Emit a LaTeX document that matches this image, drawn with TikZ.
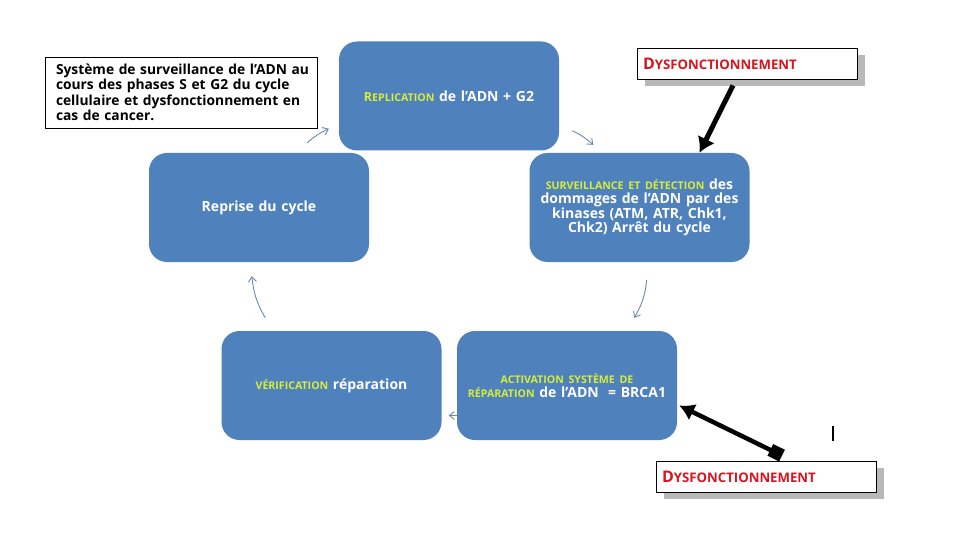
\documentclass[tikz,border=0pt]{standalone}
\usepackage{fontspec}
\setmainfont{Open Sans}
\usetikzlibrary{arrows.meta,shadows,calc}
\definecolor{boxblue}{RGB}{79,129,189}
\definecolor{capyellow}{RGB}{214,238,58}
\definecolor{dysred}{RGB}{214,22,30}
\definecolor{cyclegray}{RGB}{110,136,172}
\newcommand{\petitcap}[1]{{\fontsize{10.6}{12}\selectfont #1}}
\newcommand{\dysf}{\textcolor{dysred}{\bfseries{\fontsize{16}{16}\selectfont D}{\fontsize{13.2}{14}\selectfont YSFONCTIONNEMENT}}}

\begin{document}
\begin{tikzpicture}[x=1pt,y=-1pt,
    phase/.style ={rounded corners=18pt, fill=boxblue, minimum width=220pt,
       minimum height=109pt, text width=214pt, align=center, text=white,
       font=\bfseries\fontsize{14}{14.5}\selectfont, inner sep=0pt},
    dysfonction/.style ={draw, thick, fill=white, minimum width=220pt,
       minimum height=31pt, text width=208pt, align=left, inner sep=0pt,
       drop shadow={shadow xshift=8pt, shadow yshift=-7pt, fill=gray!55, opacity=1}},
    cyclefleche/.style ={cyclegray, line width=0.9pt, -{Straight Barb[length=5pt,width=8pt]}}]
   \fill[white] (0,0) rectangle (960,540);
   \useasboundingbox (0,0) rectangle (960,540);

   \node[draw, thick, minimum width=272pt, minimum height=71pt, text width=250pt,
     align=left, inner sep=0pt, font=\bfseries\fontsize{13.8}{15.5}\selectfont] (L) at (181,92.5)
     {\mbox{Système de surveillance de l’ADN au}\\ \mbox{cours des phases S et G2 du cycle}\\
      \mbox{cellulaire et dysfonctionnement en}\\ \mbox{cas de cancer.}};

   \node[phase] (R) at (449,96)
     {\textcolor{capyellow}{{\fontsize{12.5}{13}\selectfont R}\petitcap{EPLICATION}} de l'ADN + G2};
   \node[phase] (S) at (639.5,207.5)
     {\textcolor{capyellow}{\petitcap{SURVEILLANCE ET DÉTECTION}} des\\ dommages de l'ADN par des\\
      kinases (ATM, ATR, Chk1,\\ Chk2) Arrêt du cycle};
   \node[phase] (A) at (567,385.5)
     {\textcolor{capyellow}{\petitcap{ACTIVATION SYSTÈME DE}}\\
      \textcolor{capyellow}{\petitcap{RÉPARATION}} de l'ADN \ = BRCA1};
   \node[phase] (V) at (331.5,385.5)
     {\textcolor{capyellow}{\petitcap{VÉRIFICATION}} réparation};
   \node[phase] (P) at (259,207.5) {Reprise du cycle};

   \node[dysfonction] (D1) at (747,63.5) {\dysf};
   \node[dysfonction] (D2) at (766,476.5) {\dysf};

   \draw[line width=5pt, -{Latex[length=15pt,width=19pt]}]
     ([xshift=-14pt,yshift=-6pt]D1.south) -- ([xshift=60pt]S.north);
   \draw[line width=4.5pt, {Square[length=13pt,width=13pt]}-{Latex[length=15pt,width=18pt]}]
     ([xshift=16pt,yshift=5pt]D2.north) -- ($(A.east)+(2,20)$);
   \draw[line width=1.6pt] (833,426) -- (833,441);

   \draw[cyclefleche] ($(P.north east)+(-62,-10)$) to[bend left=8] ($(R.south west)+(-10,-22)$);
   \draw[cyclefleche] ($(R.south east)+(13,-20)$) to[bend left=8] ($(S.north west)+(64,-8)$);
   \draw[cyclefleche] ($(S.south east)+(-103,18)$) to[bend left=12] ($(A.north east)+(-43,-13)$);
   \draw[cyclefleche] ($(V.north west)+(44,-13)$) to[bend left=12] ($(P.south west)+(103,14)$);
   \draw[cyclefleche] ($(A.west)+(0,30)$) -- ($(V.east)+(7,30)$);
 \end{tikzpicture}
\end{document}
